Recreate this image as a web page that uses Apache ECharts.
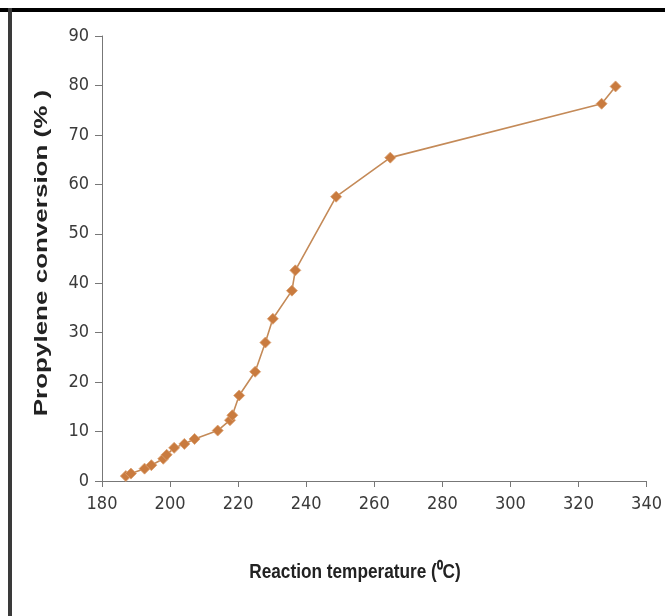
<!DOCTYPE html>
<html>
<head>
<meta charset="utf-8">
<script src="https://cdn.jsdelivr.net/npm/echarts@6/dist/echarts.min.js"></script>
<style>
html,body{margin:0;padding:0;background:#fff;}
#c{width:665px;height:616px;}
</style>
</head>
<body>
<div id="c"></div>
<script>
var temperature = [187, 188.5, 192.5, 194.5, 198, 199, 201.2, 204.2, 207.2, 214, 217.6, 218.3, 220.3, 225, 228, 230.2, 235.8, 236.8, 248.8, 264.7, 326.8, 330.9];
var conversion  = [1.0, 1.5, 2.5, 3.2, 4.5, 5.3, 6.7, 7.5, 8.5, 10.2, 12.3, 13.3, 17.3, 22.1, 28.0, 32.8, 38.5, 42.6, 57.5, 65.4, 76.3, 79.8];
var xTicks = [180, 200, 220, 240, 260, 280, 300, 320, 340];
var yTicks = [0, 10, 20, 30, 40, 50, 60, 70, 80, 90];
var xTitle = 'Reaction temperature (\u2070C)';
var yTitle = 'Propylene conversion (% )';

var points = temperature.map(function (t, i) { return [t, conversion[i]]; });
var tickFont = '"DejaVu Sans Condensed", "Liberation Sans Narrow", "Liberation Sans", Arial, sans-serif';

var chart = echarts.init(document.getElementById('c'), null, {renderer: 'canvas'});
chart.setOption({
  animation: false,
  backgroundColor: '#ffffff',
  grid: {left: 102, right: 18, top: 36, bottom: 135, containLabel: false},
  xAxis: {
    type: 'value',
    min: xTicks[0], max: xTicks[xTicks.length - 1], interval: 20,
    splitLine: {show: false},
    axisLine: {show: true, onZero: false, lineStyle: {color: '#777', width: 1}},
    axisTick: {show: true, length: 6, inside: false, lineStyle: {color: '#777'}},
    axisLabel: {margin: 14, color: '#3a3a3a', fontSize: 18, fontFamily: tickFont}
  },
  yAxis: {
    type: 'value',
    min: yTicks[0], max: yTicks[yTicks.length - 1], interval: 10,
    splitLine: {show: false},
    axisLine: {show: true, lineStyle: {color: '#777', width: 1}},
    axisTick: {show: true, length: 7, inside: false, lineStyle: {color: '#777'}},
    axisLabel: {margin: 13, color: '#3a3a3a', fontSize: 18, fontFamily: tickFont}
  },
  series: [{
    type: 'line',
    data: points,
    symbol: 'diamond',
    symbolSize: 11,
    showSymbol: true,
    lineStyle: {color: '#c48a58', width: 1.6},
    itemStyle: {color: '#c97b3f', borderColor: '#dba070', borderWidth: 0.8}
  }],
  graphic: [
    {type: 'rect', shape: {x: 0, y: 8, width: 665, height: 4}, style: {fill: '#000'}, silent: true},
    {type: 'rect', shape: {x: 8, y: 8, width: 4, height: 608}, style: {fill: '#3a3a3a'}, silent: true},
    {type: 'text', x: 42, y: 253, rotation: Math.PI / 2, scaleY: 0.68,
     style: {text: yTitle, font: 'bold 26px "Liberation Sans", Arial, sans-serif', fill: '#222', align: 'center', verticalAlign: 'middle'}},
    {type: 'text', x: 355, y: 572, scaleX: 0.82,
     style: {text: xTitle, font: 'bold 21px "Liberation Sans", Arial, sans-serif', fill: '#222', align: 'center', verticalAlign: 'middle'}}
  ]
});
</script>
</body>
</html>
